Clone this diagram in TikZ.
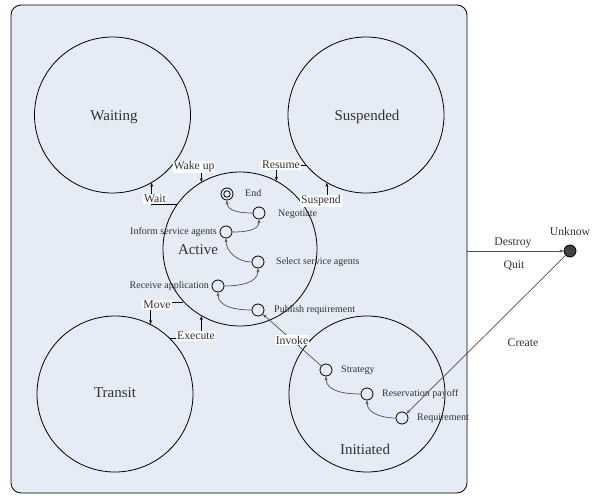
\documentclass[tikz,border=0pt]{standalone}
\usepackage{fontspec}
\setmainfont{Liberation Serif}
\usetikzlibrary{arrows.meta}
\definecolor{panelfill}{RGB}{229,236,246}
\definecolor{txt}{RGB}{50,50,50}
\definecolor{curvec}{RGB}{80,80,80}
\definecolor{unkfill}{RGB}{64,64,64}
\begin{document}
\begin{tikzpicture}[x=1pt,y=1pt,
  big/.style={circle,draw=black,line width=0.8pt,minimum size=156pt,inner sep=0pt},
  sub/.style={circle,draw=black,line width=0.8pt,minimum size=12pt,inner sep=0pt},
  bigtxt/.style={text=txt,font=\fontsize{15}{17}\selectfont},
  subtxt/.style={text=txt,font=\fontsize{10}{12}\selectfont,inner sep=0pt},
  tlabel/.style={fill=white,text=txt,font=\fontsize{11.7}{13}\selectfont,inner sep=1pt},
  olabel/.style={text=txt,font=\fontsize{11.7}{13}\selectfont,inner sep=0pt},
  tr/.style={draw=black,line width=0.5pt,-{Stealth[length=4pt,width=3pt]}},
  cv/.style={draw=curvec,line width=0.7pt,-{Stealth[length=4pt,width=3pt]}}]
\useasboundingbox (0,0) rectangle (598,-496);
\node[draw=black,line width=0.8pt,fill=panelfill,rounded corners=10pt,minimum width=456pt,minimum height=488pt,inner sep=0pt] (panel) at (239,-249) {};
% big states
\node[big] (waiting) at (112.5,-115) {};
\node[big] (suspended) at (366,-115) {};
\node[big] (transit) at (115,-394) {};
\node[big] (initiated) at (367,-394) {};
\node[big,minimum size=154pt] (active) at (240,-249) {};
\node[bigtxt] (lwaiting) at (114,-117) {Waiting};
\node[bigtxt] (lsuspended) at (367,-117) {Suspended};
\node[bigtxt] (ltransit) at (115,-393) {Transit};
\node[bigtxt] (linitiated) at (365,-449) {Initiated};
\node[bigtxt] (lactive) at (198,-250) {Active};
% sub states
\node[sub] (end) at (227,-194) {};
\node[circle,draw=black,line width=0.8pt,minimum size=6.5pt,inner sep=0pt] (endin) at (227,-194) {};
\node[sub] (neg) at (259,-213) {};
\node[sub] (inf) at (226,-232) {};
\node[sub] (sel) at (258,-262) {};
\node[sub] (rec) at (218,-286) {};
\node[sub] (pub) at (258,-310) {};
\node[sub] (str) at (326,-370) {};
\node[sub] (res) at (367,-394) {};
\node[sub] (req) at (402,-418) {};
\node[circle,draw=black,line width=0.8pt,fill=unkfill,minimum size=12pt,inner sep=0pt] (unk) at (570,-251) {};
% sub labels
\node[subtxt,anchor=west] (lend) at (245,-193) {End};
\node[subtxt,anchor=west] (lneg) at (278,-214) {Negotiate};
\node[subtxt,anchor=east] (linf) at (217,-232) {Inform service agents};
\node[subtxt,anchor=west] (lsel) at (276,-262) {Select service agents};
\node[subtxt,anchor=east] (lrec) at (209,-286) {Receive application};
\node[subtxt,anchor=west] (lpub) at (274,-310) {Publish requirement};
\node[subtxt,anchor=west] (lstr) at (341,-370) {Strategy};
\node[subtxt,anchor=west] (lres) at (382,-394) {Reservation payoff};
\node[subtxt,anchor=west] (lreq) at (417,-418) {Requirement};
% internal curves
\draw[cv] (pub) to[out=180,in=-90] (rec);
\draw[cv] (rec) to[out=0,in=-90] (sel);
\draw[cv] (sel) to[out=180,in=-90] (inf);
\draw[cv] (inf) to[out=0,in=-90] (neg);
\draw[cv] (neg) to[out=180,in=-90] (end);
\draw[cv] (req) to[out=180,in=-90] (res);
\draw[cv] (res) to[out=180,in=-90] (str);
% outer connectors
\draw[cv] (str) -- (pub);
\draw[cv] (unk) -- (req);
\draw[cv] (panel.east |- unk) -- (unk);
% transitions between big states
\draw[tr] (waiting.-40) -| (active.120);
\draw[tr] (active.145) -| (waiting.-60);
\draw[tr] (suspended.-140) -| (active.62);
\draw[tr] (active.35) -| (suspended.-120);
\draw[tr] (active.-137) -| (transit.63);
\draw[tr] (transit.45) -| (active.-120);
% transition labels
\node[tlabel] (lwake) at (194,-167) {Wake up};
\node[tlabel] (lwait) at (155,-199) {Wait};
\node[tlabel] (lresume) at (281,-165) {Resume};
\node[tlabel] (lsuspend) at (321,-201) {Suspend};
\node[tlabel] (lmove) at (157,-305) {Move};
\node[tlabel] (lexecute) at (196,-336) {Execute};
\node[tlabel] (linvoke) at (292,-340) {Invoke};
\node[olabel] (lunk) at (570,-231) {Unknow};
\node[olabel] (ldestroy) at (513,-243) {Destroy};
\node[olabel] (lquit) at (514,-266) {Quit};
\node[olabel] (lcreate) at (523,-343) {Create};
\end{tikzpicture}
\end{document}
